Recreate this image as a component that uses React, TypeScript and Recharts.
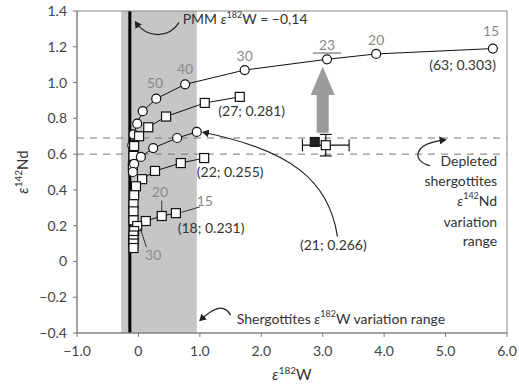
import React from 'react';
import { ScatterChart, Scatter, XAxis, YAxis, ReferenceArea, ReferenceLine, ErrorBar } from 'recharts';

// axes
const xTicks = [-1, 0, 1, 2, 3, 4, 5, 6];
const yTicks = [-0.4, -0.2, 0, 0.2, 0.4, 0.6, 0.8, 1.0, 1.2, 1.4];

// shaded ranges / reference values
const pmmW = -0.14;
const shergottitesW = [-0.28, 0.95];
const depletedNd = [0.6, 0.69];

// mixing curves [e182W, e142Nd]
const curve63 = [[5.77, 1.19], [3.87, 1.16], [3.07, 1.13], [1.73, 1.07], [0.76, 0.99], [0.29, 0.91], [0.07, 0.84], [-0.02, 0.77], [-0.08, 0.71], [-0.1, 0.65]];
const curve27 = [[1.65, 0.92], [1.08, 0.886], [0.45, 0.81], [0.16, 0.75], [0.01, 0.7], [-0.07, 0.645], [-0.08, 0.59], [-0.09, 0.53]];
const curve21 = [[0.95, 0.724], [0.63, 0.69], [0.24, 0.634], [0.04, 0.584], [-0.07, 0.545], [-0.09, 0.5]];
const curve22 = [[1.07, 0.578], [0.69, 0.55], [0.27, 0.506], [0.06, 0.46], [-0.04, 0.42], [-0.07, 0.37], [-0.08, 0.32], [-0.08, 0.28], [-0.08, 0.23]];
const curve18 = [[0.61, 0.27], [0.38, 0.254], [0.12, 0.226], [-0.02, 0.198], [-0.07, 0.17], [-0.08, 0.145], [-0.08, 0.12], [-0.08, 0.1], [-0.08, 0.075]];

// measured sample
const sampleOpen = [{ x: 3.05, y: 0.65, ex: 0.38, ey: 0.06 }];
const sampleFilled = [[2.87, 0.668]];

const W = 519;
const H = 387;
const PLOT = { left: 77, top: 11, right: 507, bottom: 333 };

const sx = (x: number) => PLOT.left + ((x + 1) / 7) * (PLOT.right - PLOT.left);
const sy = (y: number) => PLOT.top + ((1.4 - y) / 1.8) * (PLOT.bottom - PLOT.top);

const toPts = (arr: number[][]) => arr.map(([x, y]) => ({ x, y }));

const fmt = (v: number) => (Math.abs(v) < 1e-9 ? '0' : v.toFixed(1).replace('-', '\u2212'));

const FONT = 'Lato, "Open Sans", sans-serif';

const circleShape = (p: any) => <circle cx={p.cx} cy={p.cy} r={4.5} fill="#fff" stroke="#111" strokeWidth={1.2} />;
const squareShape = (p: any) => <rect x={p.cx - 4.5} y={p.cy - 4.5} width={9} height={9} fill="#fff" stroke="#111" strokeWidth={1.2} />;
const filledSquare = (p: any) => <rect x={p.cx - 4.5} y={p.cy - 4.5} width={9} height={9} fill="#222" stroke="#111" strokeWidth={1} />;

const lineStyle = { stroke: '#111', strokeWidth: 1 };

const Overlay = () => {
  const gray = '#8a8a8a';
  const dark = '#333';
  const label = (x: number, y: number, t: string, color = gray, anchor = 'middle') => (
    <text x={sx(x)} y={sy(y)} fill={color} fontSize={14} textAnchor={anchor} dominantBaseline="middle">{t}</text>
  );
  // big gray arrow
  const ax = 3.0;
  const arrow = [
    [sx(ax) - 6, sy(0.72)], [sx(ax) - 6, sy(0.93)], [sx(ax) - 12, sy(0.93)],
    [sx(ax), sy(1.09)], [sx(ax) + 12, sy(0.93)], [sx(ax) + 6, sy(0.93)], [sx(ax) + 6, sy(0.72)],
  ].map(p => p.join(',')).join(' ');
  return (
    <svg width={W} height={H} style={{ position: 'absolute', left: 0, top: 0, pointerEvents: 'none', fontFamily: FONT }}>
      <defs>
        <marker id="ah" markerWidth="8" markerHeight="8" refX="6" refY="4" orient="auto" markerUnits="userSpaceOnUse">
          <path d="M0,0 L7,4 L0,8 Z" fill="#222" />
        </marker>
      </defs>
      <rect x={PLOT.left} y={PLOT.top} width={PLOT.right - PLOT.left} height={PLOT.bottom - PLOT.top} fill="none" stroke="#888" strokeWidth={1} />
      <polygon points={arrow} fill="#9c9c9c" />

      {/* PMM */}
      <text x={sx(0.72)} y={sy(1.33)} fill={dark} fontSize={14}>
        PMM <tspan fontStyle="italic">ε</tspan><tspan fontSize={9} dy={-6}>182</tspan><tspan dy={6}>W = −0,14</tspan>
      </text>
      <path d={`M${sx(0.66)},${sy(1.335)} C${sx(0.5)},${sy(1.25)} ${sx(0.15)},${sy(1.24)} ${sx(-0.05)},${sy(1.34)}`} fill="none" stroke="#222" strokeWidth={1.2} markerEnd="url(#ah)" />

      {/* top curve labels */}
      {label(0.27, 0.99, '50')}
      {label(0.76, 1.07, '40')}
      {label(1.73, 1.14, '30')}
      {label(3.07, 1.2, '23')}
      <line x1={sx(2.84)} x2={sx(3.3)} y1={sy(1.165)} y2={sy(1.165)} stroke="#555" strokeWidth={1} />
      {label(3.87, 1.23, '20')}
      {label(5.74, 1.28, '15')}
      {label(5.82, 1.09, '(63; 0.303)', dark, 'end')}
      {label(1.3, 0.835, '(27; 0.281)', dark, 'start')}
      {label(0.95, 0.49, '(22; 0.255)', dark, 'start')}
      {label(0.64, 0.18, '(18; 0.231)', dark, 'start')}

      {/* bottom curve labels */}
      {label(1.08, 0.33, '15')}
      <line x1={sx(0.7)} y1={sy(0.275)} x2={sx(1.0)} y2={sy(0.305)} stroke="#333" strokeWidth={1} />
      {label(0.35, 0.38, '20')}
      <line x1={sx(0.38)} y1={sy(0.34)} x2={sx(0.38)} y2={sy(0.28)} stroke="#333" strokeWidth={1} />
      {label(0.24, 0.03, '30')}
      <line x1={sx(0.13)} y1={sy(0.08)} x2={sx(0.03)} y2={sy(0.185)} stroke="#333" strokeWidth={1} />

      {/* (21; 0.266) */}
      {label(2.63, 0.086, '(21; 0.266)', dark, 'start')}
      <path d={`M${sx(3.24)},${sy(0.14)} C${sx(3.1)},${sy(0.45)} ${sx(2.5)},${sy(0.62)} ${sx(1.05)},${sy(0.722)}`} fill="none" stroke="#222" strokeWidth={1.2} markerEnd="url(#ah)" />

      {/* depleted range */}
      {[['Depleted', 0.555], ['shergottites', 0.44]].map(([t, y]) => (
        <text key={t as string} x={sx(5.84)} y={sy(y as number)} fill={dark} fontSize={14} textAnchor="end" dominantBaseline="middle">{t}</text>
      ))}
      <text x={sx(5.84)} y={sy(0.33)} fill={dark} fontSize={14} textAnchor="end" dominantBaseline="middle">
        <tspan fontStyle="italic">ε</tspan><tspan fontSize={9} dy={-5}>142</tspan><tspan dy={5}>Nd</tspan>
      </text>
      {[['variation', 0.215], ['range', 0.105]].map(([t, y]) => (
        <text key={t as string} x={sx(5.84)} y={sy(y as number)} fill={dark} fontSize={14} textAnchor="end" dominantBaseline="middle">{t}</text>
      ))}
      <path d={`M${sx(4.75)},${sy(0.535)} C${sx(4.45)},${sy(0.56)} ${sx(4.45)},${sy(0.66)} ${sx(5.0)},${sy(0.68)}`} fill="none" stroke="#222" strokeWidth={1.2} markerEnd="url(#ah)" />

      {/* shergottites W range */}
      <text x={sx(1.6)} y={sy(-0.33)} fill={dark} fontSize={14} dominantBaseline="middle">
        Shergottites <tspan fontStyle="italic">ε</tspan><tspan fontSize={9} dy={-5}>182</tspan><tspan dy={5}>W variation range</tspan>
      </text>
      <path d={`M${sx(1.5)},${sy(-0.3)} C${sx(1.4)},${sy(-0.24)} ${sx(1.25)},${sy(-0.25)} ${sx(1.0)},${sy(-0.33)}`} fill="none" stroke="#222" strokeWidth={1.2} markerEnd="url(#ah)" />

      {/* axis titles */}
      <text x={(PLOT.left + PLOT.right) / 2} y={380} fill={dark} fontSize={15} textAnchor="middle">
        <tspan fontStyle="italic">ε</tspan><tspan fontSize={10} dy={-6}>182</tspan><tspan dy={6}>W</tspan>
      </text>
      <text x={0} y={0} fill={dark} fontSize={15} textAnchor="middle" transform={`translate(28, ${sy(0.5)}) rotate(-90)`}>
        <tspan fontStyle="italic">ε</tspan><tspan fontSize={10} dy={-6}>142</tspan><tspan dy={6}>Nd</tspan>
      </text>
    </svg>
  );
};

export default function App() {
  const tickStyle = { fill: '#444', fontSize: 14, fontFamily: FONT };
  return (
    <div style={{ position: 'absolute', left: 0, top: 0, width: W, height: H, background: '#fff' }}>
      <ScatterChart width={W} height={H} margin={{ top: PLOT.top, right: W - PLOT.right, left: 0, bottom: 0 }}>
        <XAxis type="number" dataKey="x" domain={[-1, 6]} ticks={xTicks} tickFormatter={fmt} tick={tickStyle}
          height={H - PLOT.bottom} axisLine={{ stroke: '#777' }} tickLine={{ stroke: '#777' }} tickSize={4} tickMargin={9} interval={0} allowDataOverflow />
        <YAxis type="number" dataKey="y" domain={[-0.4, 1.4]} ticks={yTicks} tickFormatter={fmt} tick={tickStyle}
          width={PLOT.left} axisLine={{ stroke: '#777' }} tickLine={{ stroke: '#777' }} tickSize={4} tickMargin={6} interval={0} allowDataOverflow />
        <ReferenceArea x1={shergottitesW[0]} x2={shergottitesW[1]} y1={-0.4} y2={1.4} fill="#c6c6c6" fillOpacity={1} stroke="none" />
        <ReferenceLine y={depletedNd[0]} stroke="#777" strokeDasharray="7 6" />
        <ReferenceLine y={depletedNd[1]} stroke="#777" strokeDasharray="7 6" />
        <ReferenceLine x={pmmW} stroke="#000" strokeWidth={3} />
        <Scatter data={toPts(curve63)} line={lineStyle} lineType="joint" shape={circleShape} isAnimationActive={false} />
        <Scatter data={toPts(curve27)} line={lineStyle} lineType="joint" shape={squareShape} isAnimationActive={false} />
        <Scatter data={toPts(curve21)} line={lineStyle} lineType="joint" shape={circleShape} isAnimationActive={false} />
        <Scatter data={toPts(curve22)} line={lineStyle} lineType="joint" shape={squareShape} isAnimationActive={false} />
        <Scatter data={toPts(curve18)} line={lineStyle} lineType="joint" shape={squareShape} isAnimationActive={false} />
        <Scatter data={toPts(sampleFilled)} shape={filledSquare} isAnimationActive={false} />
        <Scatter data={sampleOpen} shape={squareShape} isAnimationActive={false}>
          <ErrorBar dataKey="ex" direction="x" width={6} stroke="#111" strokeWidth={1.2} />
          <ErrorBar dataKey="ey" direction="y" width={6} stroke="#111" strokeWidth={1.2} />
        </Scatter>
      </ScatterChart>
      <Overlay />
    </div>
  );
}
